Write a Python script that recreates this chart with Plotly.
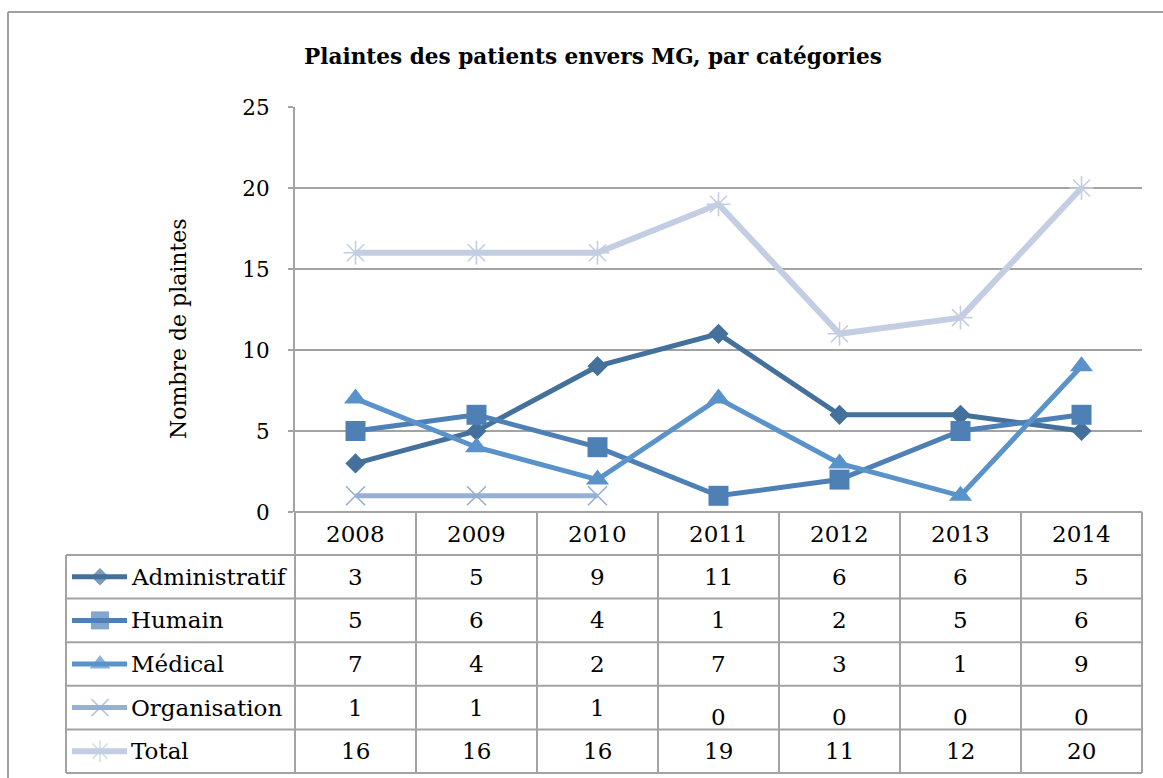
import plotly.graph_objects as go

# ---------------- data ----------------
years = ["2008", "2009", "2010", "2011", "2012", "2013", "2014"]
series_names = ["Administratif", "Humain", "Médical", "Organisation", "Total"]
administratif = [3, 5, 9, 11, 6, 6, 5]
humain = [5, 6, 4, 1, 2, 5, 6]
medical = [7, 4, 2, 7, 3, 1, 9]
organisation = [1, 1, 1, None, None, None, None]   # blank cells (shown as 0 in the table)
total = [16, 16, 16, 19, 11, 12, 20]
y_ticks = [0, 5, 10, 15, 20, 25]

title = "Plaintes des patients envers MG, par catégories"
y_title = "Nombre de plaintes"

# ---------------- style ----------------
W, H = 1163, 778
FONT = "DejaVu Serif"
FS = 23
colors = ["#44709C", "#4E80B6", "#5A93CA", "#96AFD4", "#C3CEE2"]
symbols = ["diamond", "square", "triangle-up", "x-thin-open", "asterisk-open"]
msizes = [15.5, 20, 20, 19, 20]
lwidths = [5, 5, 5, 5, 6]
GRID = "#A3A3A3"

# pixel layout (screen coordinates)
PL, PR, PT, PB = 295, 1142, 107, 512   # plot area
TL = 66                                 # table left edge
ROW_TOP = 555                           # top of body rows
ROW_H = 43.6
N_ROWS = 5


def px(x):
    return x / W


def py(y):
    return 1 - y / H


all_series = [administratif, humain, medical, organisation, total]
xs = [i + 0.5 for i in range(len(years))]

fig = go.Figure()

for name, vals, c, s, ms, lw in zip(series_names, all_series, colors, symbols, msizes, lwidths):
    open_sym = s.endswith("open")
    fig.add_trace(go.Scatter(
        x=xs, y=vals, mode="lines+markers", name=name, showlegend=False,
        line=dict(color=c, width=lw),
        marker=dict(symbol=s, size=ms, color=c,
                    line=dict(color=c, width=1.6 if open_sym else 0)),
        connectgaps=False, xaxis="x", yaxis="y",
    ))

# legend keys inside the table (own small axes)
for i, (name, c, s, ms, lw) in enumerate(zip(series_names, colors, symbols, msizes, lwidths)):
    open_sym = s.endswith("open")
    fig.add_trace(go.Scatter(
        x=[72, 100, 127], y=[i + 0.5] * 3, mode="lines+markers", showlegend=False,
        line=dict(color=c, width=lw),
        marker=dict(symbol=s, size=[0, ms - 2, 0], color=c,
                    line=dict(color=c, width=1.6 if open_sym else 0)),
        xaxis="x2", yaxis="y2", hoverinfo="skip",
    ))

shapes = []
line_style = dict(color=GRID, width=2)
border_style = dict(color="#A0A0A0", width=2)
# outer chart border (top and left edges visible in the frame)
shapes.append(dict(type="line", xref="paper", yref="paper",
                   x0=px(8), x1=1.0, y0=py(12), y1=py(12), line=border_style))
shapes.append(dict(type="line", xref="paper", yref="paper",
                   x0=px(8), x1=px(8), y0=py(12), y1=0.0, line=border_style))
# table horizontal lines
table_bottom = ROW_TOP + ROW_H * N_ROWS
shapes.append(dict(type="line", xref="paper", yref="paper", x0=px(PL), x1=px(PR),
                   y0=py(PB), y1=py(PB), line=line_style))
for r in range(N_ROWS + 1):
    yy = ROW_TOP + ROW_H * r
    shapes.append(dict(type="line", xref="paper", yref="paper", x0=px(TL), x1=px(PR),
                       y0=py(yy), y1=py(yy), line=line_style))
# table vertical lines
col_w = (PR - PL) / len(years)
for k in range(len(years) + 1):
    xx = PL + col_w * k
    shapes.append(dict(type="line", xref="paper", yref="paper", x0=px(xx), x1=px(xx),
                       y0=py(PB), y1=py(table_bottom), line=line_style))
shapes.append(dict(type="line", xref="paper", yref="paper", x0=px(TL), x1=px(TL),
                   y0=py(ROW_TOP), y1=py(table_bottom), line=line_style))

annotations = []
txt_font = dict(family=FONT, size=FS, color="black")
# title
annotations.append(dict(text=f"<b>{title}</b>", xref="paper", yref="paper",
                        x=px(593), y=py(56), xanchor="center", yanchor="middle",
                        showarrow=False, font=dict(family=FONT, size=21.6, color="black")))
# y-axis title
annotations.append(dict(text=y_title, xref="paper", yref="paper", x=px(178), y=py(329),
                        xanchor="center", yanchor="middle",
                        textangle=-90, showarrow=False,
                        font=dict(family=FONT, size=22, color="black")))
# header years
for i, yr in enumerate(years):
    annotations.append(dict(text=yr, xref="x", yref="paper", x=xs[i], y=py(534),
                            xanchor="center", yanchor="middle",
                            showarrow=False, font=txt_font))
# table values + row labels
for r, (name, vals) in enumerate(zip(series_names, all_series)):
    yc = ROW_TOP + ROW_H * (r + 0.5)
    annotations.append(dict(text=name, xref="paper", yref="paper", x=px(129), y=py(yc),
                            xanchor="left", yanchor="middle", showarrow=False,
                            font=txt_font))
    for i, v in enumerate(vals):
        txt = "0" if v is None else str(v)
        yy = yc + (9 if v is None else 0)
        annotations.append(dict(text=txt, xref="x", yref="paper", x=xs[i], y=py(yy),
                                xanchor="center", yanchor="middle",
                                showarrow=False, font=txt_font))

fig.update_layout(
    width=W, height=H, autosize=False,
    margin=dict(l=0, r=0, t=0, b=0, pad=0, autoexpand=False),
    paper_bgcolor="white", plot_bgcolor="white",
    font=dict(family=FONT, size=FS, color="black"),
    xaxis=dict(domain=[px(PL), px(PR)], range=[0, len(years)], showticklabels=False,
               showgrid=False, zeroline=False, showline=False, ticks="", fixedrange=True,
               automargin=False),
    yaxis=dict(domain=[py(PB), py(PT)], range=[0, 25], tickvals=y_ticks,
               showgrid=True, gridcolor=GRID, gridwidth=2, zeroline=False,
               showline=True, linecolor=GRID, linewidth=2,
               ticks="outside", ticklen=5, tickcolor=GRID, tickwidth=2,
               ticklabelstandoff=14, automargin=False,
               tickfont=dict(family=FONT, size=21.5, color="black")),
    xaxis2=dict(domain=[px(TL), px(PL)], range=[TL, PL], visible=False, fixedrange=True),
    yaxis2=dict(domain=[py(table_bottom), py(ROW_TOP)], range=[N_ROWS, 0], visible=False,
                fixedrange=True),
    shapes=shapes,
    annotations=annotations,
)

fig.write_html(
    "out.html",
    config={"displayModeBar": False},
    post_script="document.body.style.margin='0px';document.body.style.overflow='hidden';",
)
